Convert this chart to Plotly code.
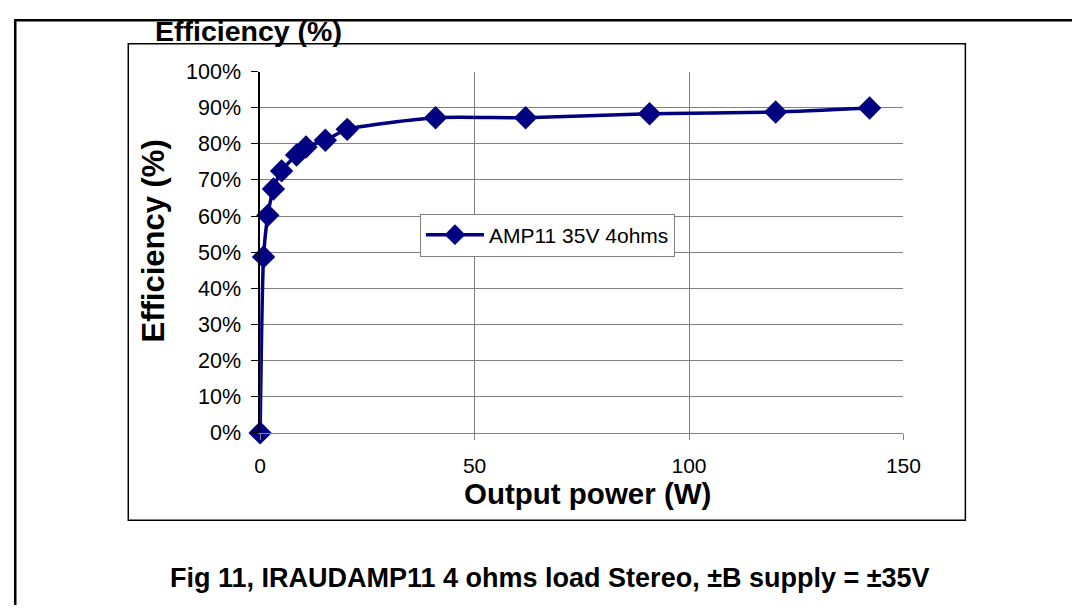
import plotly.graph_objects as go

# Data
power_w = [0.0, 0.8, 1.8, 3.1, 5.0, 8.5, 10.7, 15.2, 20.3, 40.9, 61.9, 90.8, 120.2, 142.1]
efficiency_pct = [0.0, 48.7, 60.2, 67.5, 72.5, 76.9, 79.1, 81.0, 84.0, 87.2, 87.2, 88.3, 88.8, 89.9]
series_name = "AMP11 35V 4ohms"
x_ticks = [0, 50, 100, 150]
y_ticks = list(range(0, 101, 10))
y_tick_text = [f"{v}%" for v in y_ticks]

W, H = 1064, 597

# mapping from target picture pixels to figure pixels (calibrated from render)
AX, SX = 13.6, 0.9785
AY, SY = 17.1, 0.9667


def px(x):
    return ((x - AX) / SX) / W


def py(y):
    return 1 - ((y - AY) / SY) / H


NAVY = "#000080"
FONT = "Liberation Sans, Arial, sans-serif"

fig = go.Figure()
fig.add_trace(go.Scatter(
    x=power_w, y=efficiency_pct, name=series_name,
    mode="lines+markers",
    line=dict(color=NAVY, width=3.5, shape="spline", smoothing=0.6),
    marker=dict(symbol="diamond", size=18, color=NAVY),
    cliponaxis=False,
))

fig.update_layout(
    width=W, height=H,
    margin=dict(l=0, r=0, t=0, b=0),
    paper_bgcolor="white", plot_bgcolor="white",
    font=dict(family=FONT, color="black", size=21),
    showlegend=True,
    legend=dict(
        x=px(420), y=py(213), xanchor="left", yanchor="top",
        bgcolor="white", bordercolor="#808080", borderwidth=1,
        font=dict(size=21), itemwidth=58, tracegroupgap=0,
    ),
    xaxis=dict(
        domain=[px(260), px(904)], range=[0, 150],
        tickvals=x_ticks, showgrid=True, gridcolor="#808080", gridwidth=1,
        zeroline=False, showline=True, linecolor="#808080", linewidth=1,
        ticks="outside", ticklen=6, tickcolor="#808080",
        tickfont=dict(size=21), ticklabelstandoff=8, fixedrange=True,
    ),
    yaxis=dict(
        domain=[py(434), py(70)], range=[0, 100],
        tickvals=y_ticks, ticktext=y_tick_text,
        showgrid=True, gridcolor="#808080", gridwidth=1,
        zeroline=False, showline=True, linecolor="black", linewidth=1.5,
        ticks="outside", ticklen=7, tickcolor="black",
        tickfont=dict(size=21.5), ticklabelstandoff=6, fixedrange=True,
    ),
    shapes=[
        # outer page frame: only top and left edges are visible in the reference
        dict(type="line", xref="paper", yref="paper",
             x0=0.0012, y0=1.0, x1=0.0012, y1=-0.2,
             line=dict(color="black", width=2.5), layer="below"),
        dict(type="line", xref="paper", yref="paper",
             x0=0.0, y0=0.998, x1=1.2, y1=0.998,
             line=dict(color="black", width=2.5), layer="below"),
        # chart area box
        dict(type="rect", xref="paper", yref="paper",
             x0=px(128), y0=py(42), x1=px(966), y1=py(522),
             line=dict(color="black", width=1.5), layer="below"),
    ],
    annotations=[
        dict(text="<b>Efficiency (%)</b>", xref="paper", yref="paper",
             x=px(248), y=py(29), xanchor="center", yanchor="middle",
             showarrow=False, font=dict(size=28.5)),
        dict(text="<b>Efficiency (%)</b>", xref="paper", yref="paper",
             x=px(153), y=py(241), xanchor="center", yanchor="middle",
             textangle=-90, showarrow=False, font=dict(size=31)),
        dict(text="<b>Output power (W)</b>", xref="paper", yref="paper",
             x=px(588), y=py(495), xanchor="center", yanchor="middle",
             showarrow=False, font=dict(size=29.5)),
        dict(text="<b>Fig 11, IRAUDAMP11 4 ohms load Stereo, ±B supply = ±35V</b>",
             xref="paper", yref="paper",
             x=px(550), y=py(580), xanchor="center", yanchor="middle",
             showarrow=False, font=dict(size=27)),
    ],
)

fig.write_html("out.html")
